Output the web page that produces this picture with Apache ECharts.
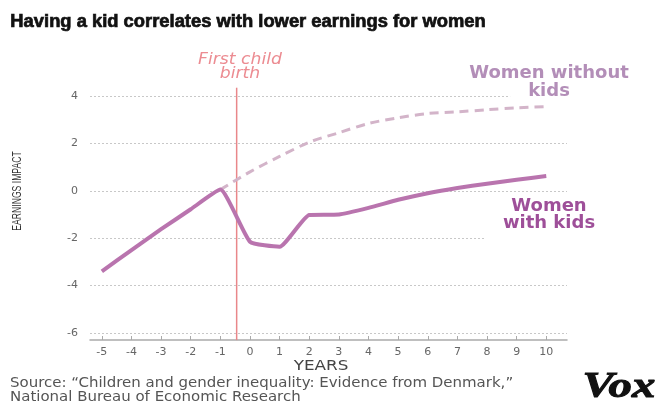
<!DOCTYPE html>
<html>
<head>
<meta charset="utf-8">
<script src="https://cdn.jsdelivr.net/npm/echarts@6/dist/echarts.min.js"></script>
<style>html,body{margin:0;padding:0;background:#fff;}#c{width:660px;height:410px;}</style>
</head>
<body>
<div id="c"></div>
<script>
const years = [-5,-4,-3,-2,-1,0,1,2,3,4,5,6,7,8,9,10];
const withKids = [-3.4,-2.5,-1.62,-0.78,0.05,-2.15,-2.36,-1.02,-1.0,-0.72,-0.38,-0.1,0.12,0.3,0.47,0.62];
const withoutKidsYears = [-1,0,1,2,3,4,5,6,7,8,9,10];
const withoutKids = [0.05,0.8,1.45,2.05,2.45,2.84,3.08,3.26,3.33,3.42,3.5,3.55];
const yTicks = [-6,-4,-2,0,2,4];
const xTicks = years;
const birthX = -0.45;
const birthSpan = [-6.3, 4.35];

const chart = echarts.init(document.getElementById('c'), null, {renderer:'canvas'});
const gray = '#666';
chart.setOption({
  backgroundColor:'#fff',
  animation:false,
  grid:{left:90,right:93,top:96,bottom:77},
  xAxis:{
    type:'value', min:-5.4, max:10.7, offset:7,
    axisLine:{onZero:false,lineStyle:{color:'#aaa',width:1.5}},
    axisTick:{show:true,customValues:xTicks,length:4,inside:true,lineStyle:{color:'#aaa'}},
    axisLabel:{customValues:xTicks,color:gray,fontSize:11,fontFamily:'DejaVu Sans',margin:7},
    splitLine:{show:false}
  },
  yAxis:{
    type:'value', min:-6, max:4, interval:2,
    axisLine:{show:false}, axisTick:{show:false},
    axisLabel:{customValues:yTicks,color:gray,fontSize:11,fontFamily:'DejaVu Sans',margin:12},
    splitLine:{lineStyle:{color:'#c8c8c8',type:[2,2],width:1}}
  },
  series:[
    {type:'line', data:birthSpan.map(v=>[birthX,v]), clip:false, symbol:'none', silent:true,
     lineStyle:{color:'#e9878a',width:1.5}, z:1},
    {type:'line', data:withoutKidsYears.map((x,i)=>[x,withoutKids[i]]), symbol:'none', smooth:0.3,
     lineStyle:{color:'#d3b4c9',width:3,type:[9,6]}, z:2},
    {type:'line', data:years.map((x,i)=>[x,withKids[i]]), symbol:'none', smooth:0.15,
     lineStyle:{color:'#b974ae',width:4}, z:3}
  ],
  graphic:[
    {type:'text', left:10, top:13, scaleX:1.02, style:{text:'Having a kid correlates with lower earnings for women', fill:'#111', font:'bold 18px "Liberation Sans"', stroke:'#111', lineWidth:0.7}},
    {type:'text', x:18, y:191, rotation:Math.PI/2, scaleX:0.72, style:{text:'EARNINGS IMPACT', fill:'#333', font:'12px "Liberation Sans"', align:'center', verticalAlign:'middle'}},
    {type:'text', x:240, y:67, scaleX:1.15, style:{text:'First child\nbirth', fill:'#ec8c92', font:'italic 15px "DejaVu Sans"', align:'center', verticalAlign:'middle', lineHeight:14}},
    {type:'text', x:549, y:73, z:10, style:{text:'Women without', fill:'#b38eb8', font:'bold 18px "DejaVu Sans"', align:'center', verticalAlign:'middle', backgroundColor:'#fff', padding:[0,4]}},
    {type:'text', x:549, y:91, z:10, style:{text:'kids', fill:'#b38eb8', font:'bold 18px "DejaVu Sans"', align:'center', verticalAlign:'middle', backgroundColor:'#fff', padding:[0,18,2,18]}},
    {type:'text', x:549, y:198, z:10, style:{text:'Women\nwith kids', fill:'#9e4f99', font:'bold 18px "DejaVu Sans"', align:'center', verticalAlign:'top', lineHeight:17, backgroundColor:'#fff', padding:[0,18,12,18]}},
    {type:'text', x:321, y:366, scaleX:1.2, style:{text:'YEARS', fill:'#444', font:'14px "DejaVu Sans"', align:'center', verticalAlign:'middle'}},
    {type:'text', left:10, top:376, scaleX:1.07, style:{text:'Source: \u201cChildren and gender inequality: Evidence from Denmark,\u201d\nNational Bureau of Economic Research', fill:'#555', font:'14px "DejaVu Sans"', lineHeight:14}},
    {type:'text', x:619, y:388, scaleX:1.3, style:{text:'Vox', fill:'#111', font:'italic bold 36px "Liberation Serif"', align:'center', verticalAlign:'middle', stroke:'#111', lineWidth:1}}
  ]
});
</script>
</body>
</html>
